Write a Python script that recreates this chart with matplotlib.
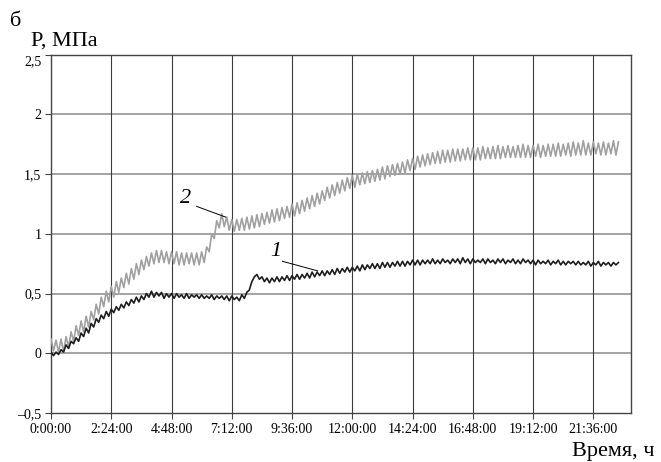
import numpy as np
import matplotlib
matplotlib.use("Agg")
import matplotlib.pyplot as plt
import matplotlib.transforms as mtransforms

plt.rcParams['font.family'] = ['Liberation Serif', 'DejaVu Serif']

# sample times, hours (one reading every 0.1 h)
hours = np.round(np.arange(0, 22.61, 0.1), 1)

# curve 1 (black), MPa
p1 = [0.01, -0.02, 0.01, -0.01, 0.03, 0.01, 0.07, 0.04, 0.10, 0.08,
      0.13, 0.10, 0.17, 0.14, 0.21, 0.17, 0.25, 0.22, 0.29, 0.26,
      0.32, 0.29, 0.35, 0.31, 0.37, 0.34, 0.39, 0.36, 0.41, 0.38,
      0.43, 0.40, 0.45, 0.42, 0.47, 0.43, 0.48, 0.45, 0.50, 0.47,
      0.52, 0.47, 0.51, 0.48, 0.51, 0.46, 0.50, 0.47, 0.50, 0.46,
      0.50, 0.47, 0.49, 0.46, 0.50, 0.46, 0.49, 0.47, 0.49, 0.46,
      0.49, 0.46, 0.48, 0.46, 0.49, 0.45, 0.48, 0.46, 0.48, 0.45,
      0.48, 0.44, 0.48, 0.45, 0.47, 0.44, 0.49, 0.46, 0.51, 0.53,
      0.60, 0.64, 0.66, 0.62, 0.64, 0.60, 0.63, 0.59, 0.63, 0.60,
      0.64, 0.60, 0.64, 0.61, 0.65, 0.61, 0.65, 0.62, 0.66, 0.62,
      0.66, 0.63, 0.67, 0.63, 0.68, 0.64, 0.68, 0.65, 0.69, 0.65,
      0.69, 0.66, 0.70, 0.66, 0.71, 0.67, 0.71, 0.68, 0.72, 0.68,
      0.72, 0.69, 0.73, 0.69, 0.74, 0.70, 0.74, 0.71, 0.75, 0.71,
      0.75, 0.71, 0.76, 0.72, 0.76, 0.72, 0.76, 0.73, 0.77, 0.73,
      0.77, 0.73, 0.77, 0.74, 0.78, 0.74, 0.78, 0.74, 0.78, 0.75,
      0.78, 0.75, 0.79, 0.75, 0.78, 0.75, 0.79, 0.76, 0.78, 0.75,
      0.79, 0.76, 0.79, 0.75, 0.80, 0.76, 0.79, 0.75, 0.79, 0.76,
      0.78, 0.76, 0.79, 0.75, 0.79, 0.76, 0.78, 0.75, 0.79, 0.76,
      0.79, 0.75, 0.78, 0.76, 0.79, 0.75, 0.78, 0.75, 0.79, 0.76,
      0.78, 0.75, 0.78, 0.74, 0.78, 0.75, 0.77, 0.75, 0.78, 0.74,
      0.77, 0.75, 0.78, 0.74, 0.77, 0.74, 0.77, 0.75, 0.77, 0.74,
      0.77, 0.74, 0.76, 0.74, 0.77, 0.73, 0.76, 0.74, 0.77, 0.73,
      0.76, 0.74, 0.76, 0.73, 0.76, 0.74, 0.76]

# curve 2 (grey), MPa
p2 = [0.12, 0.02, 0.11, 0.01, 0.12, 0.01, 0.14, 0.05, 0.18, 0.10,
      0.23, 0.15, 0.27, 0.18, 0.31, 0.22, 0.35, 0.28, 0.41, 0.33,
      0.47, 0.39, 0.52, 0.43, 0.56, 0.47, 0.60, 0.51, 0.63, 0.55,
      0.67, 0.58, 0.71, 0.62, 0.75, 0.66, 0.78, 0.70, 0.81, 0.73,
      0.84, 0.75, 0.86, 0.76, 0.86, 0.76, 0.85, 0.75, 0.85, 0.75,
      0.85, 0.74, 0.84, 0.74, 0.84, 0.75, 0.84, 0.74, 0.84, 0.74,
      0.85, 0.76, 0.89, 0.85, 1.00, 0.96, 1.11, 1.05, 1.17, 1.06,
      1.14, 1.03, 1.12, 1.02, 1.12, 1.03, 1.13, 1.03, 1.14, 1.04,
      1.15, 1.05, 1.16, 1.06, 1.17, 1.08, 1.18, 1.09, 1.20, 1.10,
      1.21, 1.11, 1.22, 1.13, 1.23, 1.14, 1.25, 1.15, 1.26, 1.17,
      1.28, 1.19, 1.30, 1.21, 1.32, 1.23, 1.34, 1.25, 1.36, 1.28,
      1.39, 1.30, 1.41, 1.32, 1.43, 1.34, 1.45, 1.36, 1.47, 1.38,
      1.49, 1.39, 1.50, 1.41, 1.51, 1.42, 1.52, 1.43, 1.53, 1.44,
      1.54, 1.45, 1.56, 1.46, 1.57, 1.48, 1.58, 1.49, 1.59, 1.50,
      1.60, 1.51, 1.62, 1.53, 1.63, 1.54, 1.65, 1.56, 1.66, 1.57,
      1.67, 1.58, 1.68, 1.59, 1.69, 1.59, 1.70, 1.60, 1.70, 1.60,
      1.71, 1.61, 1.71, 1.61, 1.71, 1.62, 1.72, 1.62, 1.72, 1.62,
      1.72, 1.62, 1.73, 1.63, 1.72, 1.63, 1.73, 1.63, 1.74, 1.63,
      1.73, 1.64, 1.74, 1.64, 1.73, 1.64, 1.74, 1.64, 1.75, 1.64,
      1.74, 1.64, 1.74, 1.65, 1.75, 1.64, 1.74, 1.65, 1.75, 1.65,
      1.75, 1.65, 1.76, 1.65, 1.75, 1.66, 1.76, 1.65, 1.77, 1.66,
      1.76, 1.66, 1.78, 1.66, 1.76, 1.66, 1.77, 1.67, 1.76, 1.66,
      1.77, 1.66, 1.76, 1.67, 1.78, 1.66, 1.77]

x_ticks = [0, 2.4, 4.8, 7.2, 9.6, 12.0, 14.4, 16.8, 19.2, 21.6]
x_labels = ['0:00:00', '2:24:00', '4:48:00', '7:12:00', '9:36:00',
            '12:00:00', '14:24:00', '16:48:00', '19:12:00', '21:36:00']
y_ticks = [-0.5, 0, 0.5, 1, 1.5, 2, 2.5]
y_labels = ['\u20130,5', '0', '0,5', '1', '1,5', '2', '2,5']

fig = plt.figure(figsize=(6.61, 4.62), dpi=100)
ax = fig.add_axes([51 / 661, 1 - 413 / 462, 580 / 661, 358.3 / 462])

ax.plot(hours, p2, color='#a0a0a0', lw=1.2, zorder=3)
ax.plot(hours, p1, color='#1e1e1e', lw=1.2, zorder=4)

ax.set_xlim(0, 23.1)
ax.set_ylim(-0.5, 2.5)
ax.set_xticks(x_ticks)
ax.set_xticklabels(x_labels, fontsize=10)
ax.set_yticks(y_ticks)
ax.set_yticklabels(y_labels, fontsize=10)
ax.tick_params(direction='out', length=4, width=0.8, color='#444444', pad=3)

# top label sits a little lower, as in the original
top_lbl = ax.get_yticklabels()[-1]
top_lbl.set_transform(top_lbl.get_transform() +
                      mtransforms.ScaledTranslation(0, -4 / 72, fig.dpi_scale_trans))

for y in y_ticks[1:]:
    ax.axhline(y, color='#8a8a8a', lw=1.1, zorder=1)
for x in x_ticks[1:]:
    ax.axvline(x, color='#3c3c3c', lw=0.8, zorder=1)
for s in ax.spines.values():
    s.set_color('#444444')
    s.set_linewidth(1.0)

# curve numbers with leader lines
ax.text(5.37, 1.30, '2', fontsize=16, style='italic', ha='center', va='center')
ax.plot([5.80, 6.96], [1.23, 1.14], color='black', lw=0.7, zorder=5)
ax.text(8.96, 0.85, '1', fontsize=16, style='italic', ha='center', va='center')
ax.plot([9.22, 10.62], [0.77, 0.69], color='black', lw=0.7, zorder=5)

fig.text(10 / 661, 1 - 26 / 462, 'б', fontsize=16, va='baseline')
fig.text(31 / 661, 1 - 46 / 462, 'P, МПа', fontsize=16, va='baseline')
fig.text(655 / 661, 1 - 456 / 462, 'Время, ч', fontsize=16, ha='right', va='baseline')

fig.savefig('out.png', dpi=100)
